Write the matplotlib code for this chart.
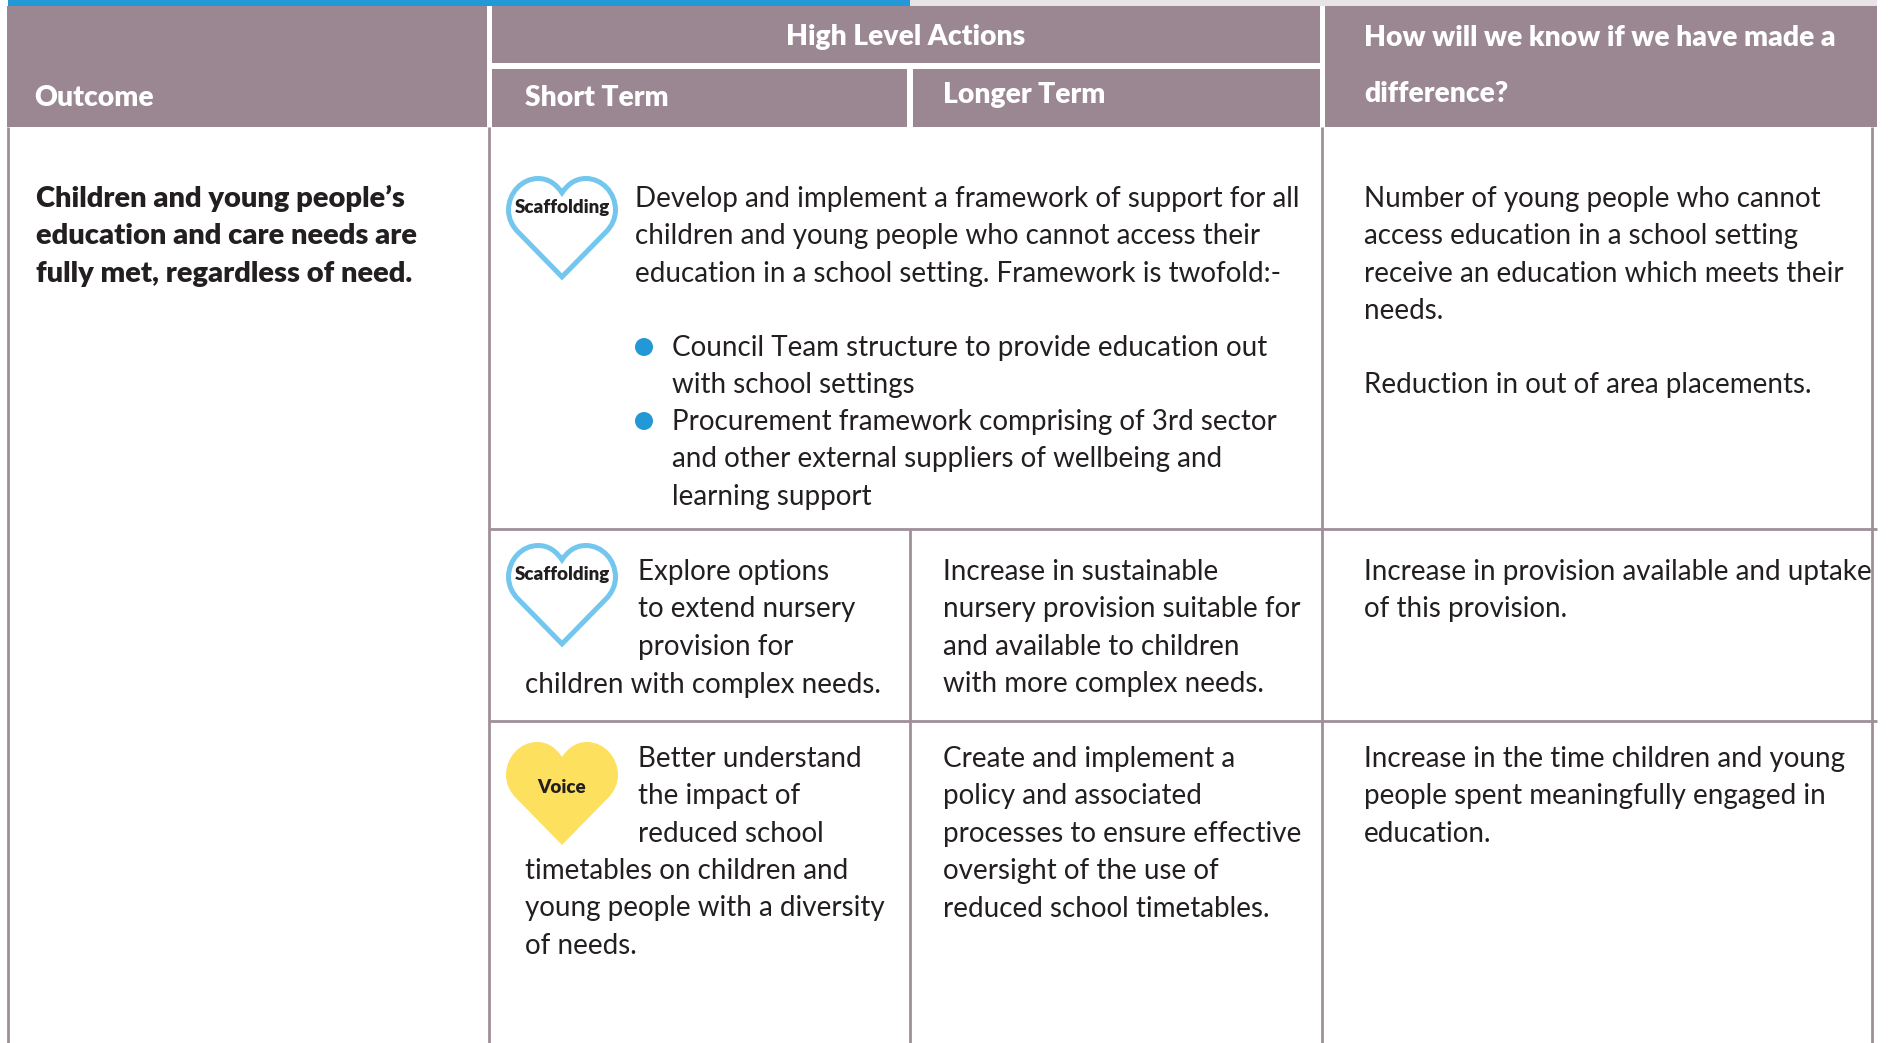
import matplotlib
matplotlib.use('Agg')
import matplotlib.pyplot as plt
from matplotlib.patches import PathPatch, Rectangle, Circle
from matplotlib.path import Path

plt.rcParams['font.family'] = ['Lato', 'DejaVu Sans']

HEADER = '#9A8792'
RULE = '#9E8F99'
INK = '#231F20'
BLUE = '#2398D6'
PALE = '#E8E4E6'
SKY = '#73C7EE'
YELLOW = '#FDE05E'
BODY = 20.0
HEAD = 20.3

outcome = ["Children and young people’s", "education and care needs are", "fully met, regardless of need."]

intro = ["Develop and implement a framework of support for all",
         "children and young people who cannot access their",
         "education in a school setting. Framework is twofold:-"]
bullet_1 = ["Council Team structure to provide education out", "with school settings"]
bullet_2 = ["Procurement framework comprising of 3rd sector",
            "and other external suppliers of wellbeing and", "learning support"]
measure_1 = ["Number of young people who cannot", "access education in a school setting",
             "receive an education which meets their", "needs."]
measure_1b = ["Reduction in out of area placements."]

short_2 = ["Explore options", "to extend nursery", "provision for"]
short_2b = ["children with complex needs."]
longer_2 = ["Increase in sustainable", "nursery provision suitable for",
            "and available to children", "with more complex needs."]
measure_2 = ["Increase in provision available and uptake", "of this provision."]

short_3 = ["Better understand", "the impact of", "reduced school"]
short_3b = ["timetables on children and", "young people with a diversity", "of needs."]
longer_3 = ["Create and implement a", "policy and associated", "processes to ensure effective",
            "oversight of the use of", "reduced school timetables."]
measure_3 = ["Increase in the time children and young", "people spent meaningfully engaged in", "education."]

# heart outline, centre top = (0, 0), pixels
heart_verts = [(0, 103), (-46, 56), (-52, 50), (-56, 42), (-56, 33), (-56, 15), (-42, 0), (-25, 0),
               (-14, 0), (-6, 6), (0, 15), (6, 6), (14, 0), (25, 0), (42, 0), (56, 15), (56, 33),
               (56, 42), (52, 50), (46, 56), (0, 103)]
heart_codes = [Path.MOVETO, Path.LINETO] + [Path.CURVE4] * 18 + [Path.CLOSEPOLY]

fig = plt.figure(figsize=(18.92, 10.43), dpi=100)
ax = fig.add_axes([0, 0, 1, 1])
ax.set_xlim(0, 1892)
ax.set_ylim(1043, 0)
ax.axis('off')


def box(x0, y0, x1, y1, color):
    ax.add_patch(Rectangle((x0, y0), x1 - x0, y1 - y0, fc=color, ec='none'))


def lines(x, y, rows, weight='normal', size=BODY, color=INK, step=37.4):
    for i, row in enumerate(rows):
        ax.text(x, y + i * step, row, fontsize=size, fontweight=weight, color=color, va='baseline', ha='left')


def heart(cy, label, filled):
    verts = [(562 + vx * (1 if filled else 0.955), cy + (vy if filled else 2.5 + vy * 0.955)) for vx, vy in heart_verts]
    if filled:
        ax.add_patch(PathPatch(Path(verts, heart_codes), fc=YELLOW, ec='none'))
    else:
        ax.add_patch(PathPatch(Path(verts, heart_codes), fc='white', ec=SKY, lw=3.6))
    base = cy + (51 if filled else 37)
    ax.text(562, base, label, fontsize=13.5, fontweight='heavy', color=INK, ha='center', va='baseline')


# top strip and header cells
box(8, 0, 910, 6, BLUE)
box(910, 0, 1877, 6, PALE)
box(7, 6, 487, 127, HEADER)
box(492, 6, 1320, 63, HEADER)
box(492, 69, 907, 127, HEADER)
box(913, 69, 1320, 127, HEADER)
box(1325, 6, 1877, 127, HEADER)

# table rules
for x, top in [(8, 127), (489, 127), (910, 529), (1322, 127), (1872, 127)]:
    ax.plot([x, x], [top, 1043], color=RULE, lw=2, solid_capstyle='butt')
for y in [529, 721]:
    ax.plot([489, 1877], [y, y], color=RULE, lw=2, solid_capstyle='butt')

# header text
ax.text(906, 45.5, "High Level Actions", fontsize=HEAD, fontweight='heavy', color='white', ha='center', va='baseline')
lines(34, 105.5, ["Outcome"], 'heavy', HEAD, 'white')
lines(525, 105.5, ["Short Term"], 'heavy', HEAD, 'white')
lines(943, 102.5, ["Longer Term"], 'heavy', HEAD, 'white')
lines(1364, 45.5, ["How will we know if we have made a"], 'heavy', HEAD, 'white')
lines(1364, 101.5, ["difference?"], 'heavy', HEAD, 'white')

# body text
lines(36, 207, outcome, 'heavy', 21.0)
lines(635, 207, intro)
lines(672, 356, bullet_1)
lines(672, 430, bullet_2)
lines(1364, 207, measure_1)
lines(1364, 393, measure_1b)

lines(638, 580, short_2)
lines(525, 693, short_2b)
lines(943, 580, longer_2)
lines(1364, 580, measure_2)

lines(638, 767, short_3)
lines(525, 879, short_3b)
lines(943, 767, longer_3)
lines(1364, 767, measure_3)

for y in [347, 421]:
    ax.add_patch(Circle((644, y), 9, fc=BLUE, ec='none'))

heart(176, "Scaffolding", False)
heart(543, "Scaffolding", False)
heart(742, "Voice", True)

fig.savefig('out.png', dpi=100)
